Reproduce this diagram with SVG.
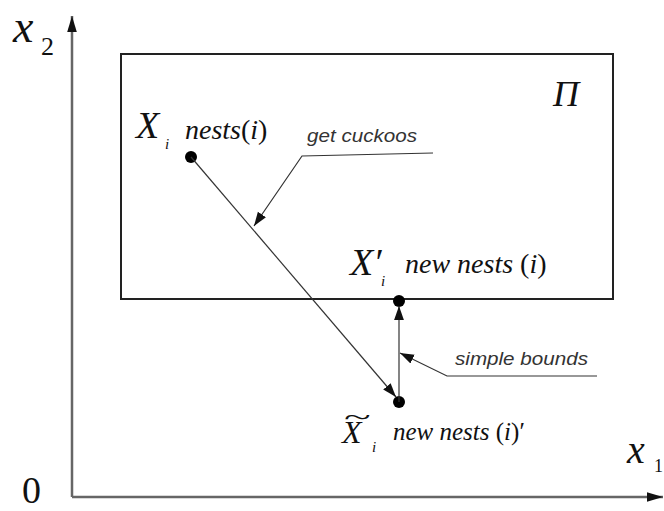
<svg xmlns="http://www.w3.org/2000/svg" width="664" height="511" viewBox="0 0 664 511">
<style>
.m{font-family:"Liberation Serif","Times New Roman",serif;font-style:italic;fill:#111}
.r{font-family:"Liberation Serif","Times New Roman",serif;fill:#111}
.s{font-family:"Liberation Sans",Arial,sans-serif;font-style:italic;fill:#333;font-size:19px}
.ax{stroke:#666;stroke-width:2.5;fill:none}
.ln{stroke:#333;stroke-width:1.2;fill:none}
</style>
<defs>
<marker id="aa" viewBox="0 0 10 10" refX="10" refY="5" markerWidth="16" markerHeight="16" markerUnits="userSpaceOnUse" orient="auto"><path d="M0,2 L10,5 L0,8 Z" fill="#111"/></marker>
<marker id="ab" viewBox="0 0 10 10" refX="10" refY="5" markerWidth="14" markerHeight="14" markerUnits="userSpaceOnUse" orient="auto"><path d="M0,1.5 L10,5 L0,8.5 Z" fill="#111"/></marker>
</defs>
<g id="axes">
<line class="ax" x1="72" y1="497" x2="72" y2="16" marker-end="url(#aa)"/>
<line class="ax" x1="72" y1="497" x2="663" y2="497" marker-end="url(#aa)"/>
<text class="m" x="13" y="42" font-size="46">x</text>
<text class="r" x="41" y="55" font-size="26">2</text>
<text class="m" x="627" y="463" font-size="40">x</text>
<text class="r" x="654" y="472" font-size="18">1</text>
<text class="r" x="22" y="503" font-size="38">0</text>
</g>
<g id="region">
<rect x="121" y="54" width="492" height="245" fill="none" stroke="#222" stroke-width="2"/>
<text class="m" x="553" y="106" font-size="36">П</text>
</g>
<g id="nodeXi">
<circle cx="191" cy="157" r="6" fill="#000"/>
<text class="m" x="136" y="138" font-size="38">X</text>
<text class="m" x="165" y="149" font-size="15">i</text>
<text class="m" x="185" y="139" font-size="28">nests<tspan font-style="normal">(</tspan>i<tspan font-style="normal">)</tspan></text>
</g>
<g id="nodeXiPrime">
<circle cx="399" cy="301" r="6" fill="#000"/>
<text class="m" x="350" y="275" font-size="38">X′</text>
<text class="m" x="381" y="286" font-size="15">i</text>
<text class="m" x="405" y="273" font-size="28">new nests <tspan font-style="normal">(</tspan>i<tspan font-style="normal">)</tspan></text>
</g>
<g id="nodeXiTilde">
<circle cx="399" cy="402" r="6" fill="#000"/>
<text class="m" x="342" y="443" font-size="32">X</text>
<text class="r" font-size="26" transform="translate(344,425) scale(1.9,1)">~</text>
<text class="m" x="372" y="452" font-size="15">i</text>
<text class="m" x="393" y="440" font-size="25">new nests <tspan font-style="normal">(</tspan>i<tspan font-style="normal">)′</tspan></text>
</g>
<g id="connectors">
<line class="ln" x1="191" y1="157" x2="396" y2="397" marker-end="url(#ab)"/>
<line class="ln" x1="399" y1="402" x2="399" y2="306" stroke-width="1.6" marker-end="url(#ab)"/>
<polyline class="ln" points="433,153 302,156 254,226" marker-end="url(#ab)"/>
<polyline class="ln" points="597,376 447,376 400,353" marker-end="url(#ab)"/>
<text class="s" x="307" y="142" textLength="110" lengthAdjust="spacingAndGlyphs">get cuckoos</text>
<text class="s" x="455" y="365" textLength="133" lengthAdjust="spacingAndGlyphs">simple bounds</text>
</g>
</svg>
